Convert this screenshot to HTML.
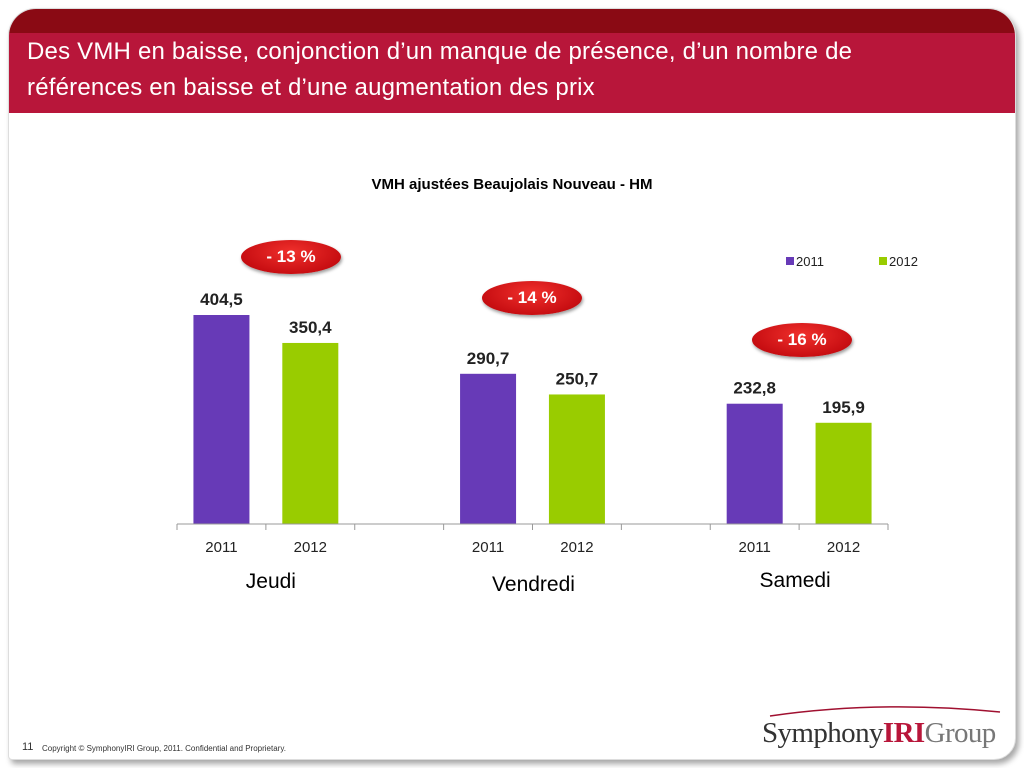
<!DOCTYPE html>
<html><head><meta charset="utf-8"><style>
body{margin:0;width:1024px;height:768px;background:#fff;position:relative;overflow:hidden;font-family:"Liberation Sans",Arial,sans-serif}
svg text{font-family:"Liberation Sans",Arial,sans-serif}
.slide{position:absolute;left:8px;top:8px;width:1008px;height:752px;border-radius:28px 28px 22px 4px;box-shadow:3px 4px 6px rgba(0,0,0,0.35);background:#fff;border:1px solid #ddd;box-sizing:border-box;overflow:hidden}
.hdr-top{position:absolute;left:0;top:0;width:100%;height:24px;background:#8a0a14}
.hdr{position:absolute;left:0;top:24px;width:100%;height:80px;background:#b8163a}
.title{position:absolute;left:18px;top:25px;color:#fff;font-size:24px;line-height:36px;font-family:"Liberation Sans",Arial,sans-serif;letter-spacing:0.2px}
.pill{position:absolute;width:100px;height:34px;border-radius:50%;background:radial-gradient(ellipse at 50% 35%,#f0302c,#c80e12 70%,#a0080a);box-shadow:1px 2px 3px rgba(0,0,0,0.4);color:#fff;font-weight:bold;font-size:17px;text-align:center;line-height:34px;font-family:"Liberation Sans",Arial,sans-serif}
</style></head><body>
<div class="slide">
<div class="hdr-top"></div>
<div class="hdr"></div>
<div class="title">Des VMH en baisse, conjonction d’un manque de présence, d’un nombre de<br>références en baisse et d’une augmentation des prix</div>
</div>
<svg id="chart" width="1024" height="768" style="position:absolute;left:0;top:0"></svg>
<div class="pill" style="left:241px;top:240px">- 13 %</div>
<div class="pill" style="left:482px;top:281px">- 14 %</div>
<div class="pill" style="left:752px;top:323px">- 16 %</div>
<div style="position:absolute;left:22px;top:741px;font-size:11px;color:#333">11</div>
<div style="position:absolute;left:42px;top:744px;font-size:8px;color:#333">Copyright © SymphonyIRI Group, 2011. Confidential and Proprietary.</div>
<svg style="position:absolute;left:760px;top:700px" width="250" height="20"><path d="M10 16 Q120 0 240 12" stroke="#a01030" stroke-width="1.5" fill="none"/></svg>
<div style="position:absolute;left:762px;top:717px;font-family:'Liberation Serif',serif;font-size:29px;color:#333;letter-spacing:-0.6px">Symphony<span style="color:#b8163a;font-weight:bold">IRI</span><span style="color:#777">Group</span></div>
<script>
const categories=["2011","2012","","2011","2012","","2011","2012"];
const values=[404.5,350.4,null,290.7,250.7,null,232.8,195.9];
const labels=["404,5","350,4","","290,7","250,7","","232,8","195,9"];
const groups=["Jeudi","Vendredi","Samedi"];
const seriesNames=["2011","2012"];
const NS="http://www.w3.org/2000/svg";
const svg=document.getElementById('chart');
const x0=177,x1=888,base=524,scale=209/404.5;
const slot=(x1-x0)/categories.length;
const xc=i=>x0+slot*(i+0.5);
const y=v=>base-v*scale;
const colors={"2011":"#673ab7","2012":"#99cc00"};
function mk(t,a,txt){const e=document.createElementNS(NS,t);for(const k in a)e.setAttribute(k,a[k]);if(txt!=null)e.textContent=txt;svg.appendChild(e);return e;}
let e=mk('text',{x:512,y:189,'text-anchor':'middle','font-size':15,'font-weight':'bold',fill:'#000'},"VMH ajustées Beaujolais Nouveau - HM");


values.forEach((v,i)=>{
 if(v==null)return;
 const r=mk('rect',{x:xc(i)-28,y:y(v),width:56,height:base-y(v),fill:colors[categories[i]]});
 
 
 const t=mk('text',{x:xc(i),y:y(v)-10,'text-anchor':'middle','font-size':17,'font-weight':'bold',fill:'#222'},labels[i]);
 
 
});
e=mk('line',{x1:x0,y1:base,x2:x1,y2:base,stroke:'#999','stroke-width':1});


for(let i=0;i<=categories.length;i++){
 e=mk('line',{x1:x0+slot*i,y1:base,x2:x0+slot*i,y2:base+6,stroke:'#999'});
 
 
}
categories.forEach((c,i)=>{
 if(!c)return;
 e=mk('text',{x:xc(i),y:552,'text-anchor':'middle','font-size':15,fill:'#222'},c);
 
 
});
groups.forEach((g,k)=>{
 const cx=(xc(k*3)+xc(k*3+1))/2;
 e=mk('text',{x:cx+[5,1,-4][k],y:[588,591,587][k],'text-anchor':'middle','font-size':21,fill:'#000'},g);
 
 
});
seriesNames.forEach((s,k)=>{
 const lx=786+k*93;
 e=mk('rect',{x:lx,y:257,width:8,height:8,fill:colors[s]});
 
 
 e=mk('text',{x:lx+10,y:266,'font-size':13,fill:'#222'},s);
 
 
});
</script>
</body></html>
